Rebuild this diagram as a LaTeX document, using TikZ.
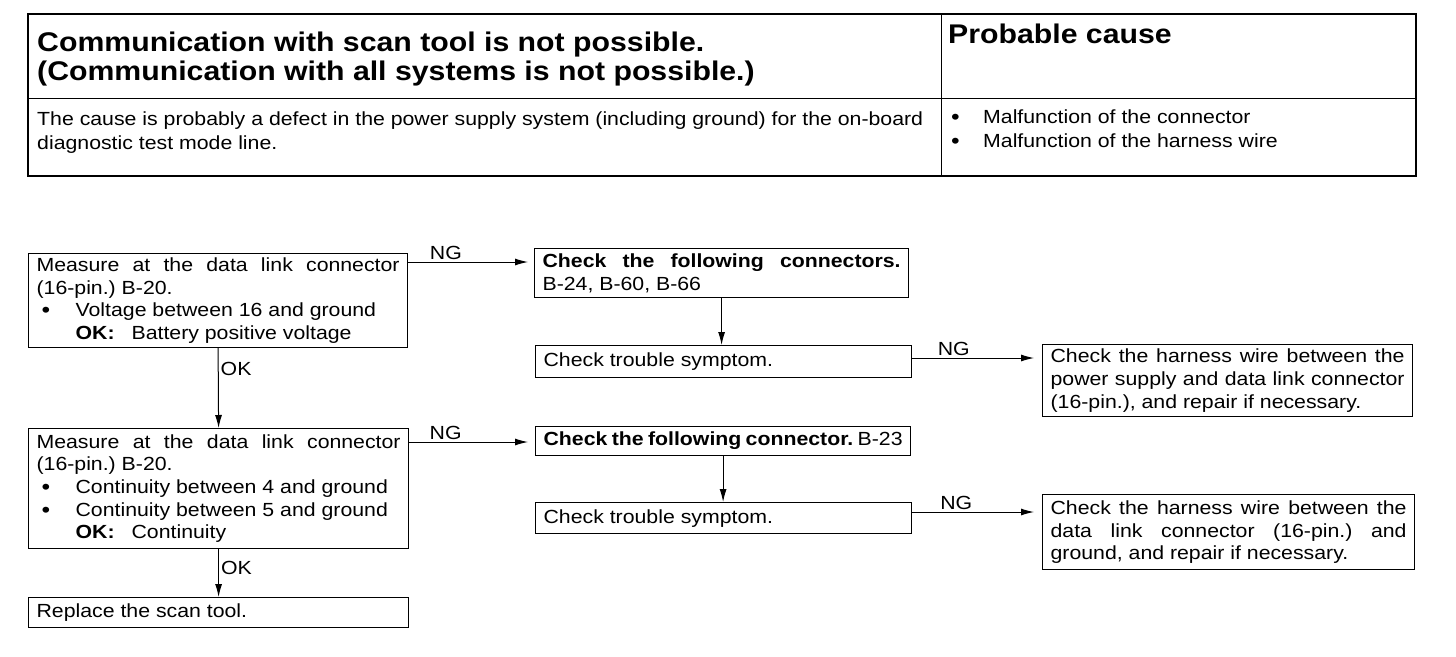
\documentclass[tikz,border=0pt]{standalone}
\usepackage{fontspec}
\setmainfont[FakeStretch=1.12]{Liberation Sans}
\usetikzlibrary{arrows.meta,positioning,calc}

\newcommand{\bodyfont}{\fontsize{19}{22.7}\selectfont\frenchspacing}
\newcommand{\notefont}{\fontsize{19}{24}\selectfont\frenchspacing}
\newcommand{\titlefont}{\fontsize{27}{29}\selectfont\bfseries}
\newcommand{\dotmark}[1][39pt]{\makebox[#1][l]{\hspace{5pt}\raisebox{-1pt}{\fontsize{22}{22}\selectfont\textbullet}}}

\tikzset{
	stepbox/.style={draw, line width=1.2pt, anchor=north west, inner xsep=8pt, inner ysep=0pt, align=justify, font=\bodyfont},
	flow/.style={-{Latex[length=13pt,width=7pt]}, line width=1pt},
	tag/.style={font=\bodyfont, inner sep=2pt}
}

\begin{document}
\begin{tikzpicture}[x=1pt,y=-1pt]
	\useasboundingbox (0,0) rectangle (1456,656);
	
	% header table
	\draw[line width=1.8pt] (28,14) rectangle (1416,176);
	\draw[line width=1pt] (28,98) -- (1416,98);
	\draw[line width=1pt] (941,14) -- (941,176);
	
	\node[anchor=north west, align=left, font=\titlefont, inner sep=0pt] (title) at (37,32)
		{Communication with scan tool is not possible.\\(Communication with all systems is not possible.)};
	\node[anchor=north west, font=\titlefont, inner sep=0pt] (cause) at (948,24) {Probable cause};
	\node[anchor=north west, align=left, font=\notefont, inner sep=0pt] (note) at (37,112)
		{The cause is probably a defect in the power supply system (including ground) for the on-board\\diagnostic test mode line.};
	\node[anchor=north west, align=left, font=\notefont, inner sep=0pt] (causes) at (946,110)
		{\dotmark[37pt]Malfunction of the connector\\\dotmark[37pt]Malfunction of the harness wire};
	
	% left column
	\node[stepbox, text width=363pt, minimum height=94pt] (m1) at (28,253)
		{Measure at the data link connector\linebreak
		 (16-pin.) B-20.\\
		 \dotmark Voltage between 16 and ground\\
		 \hspace*{39pt}\textbf{OK:}\hspace{17pt}Battery positive voltage};
	\node[stepbox, text width=364pt, minimum height=120pt] (m2) at (28,428)
		{Measure at the data link connector\linebreak
		 (16-pin.) B-20.\\
		 \dotmark Continuity between 4 and ground\\
		 \dotmark Continuity between 5 and ground\\
		 \hspace*{39pt}\textbf{OK:}\hspace{17pt}Continuity};
	\node[stepbox, text width=364pt, minimum height=30pt] (rp) at (28,597) {Replace the scan tool.};
	
	% middle column
	\node[stepbox, text width=358pt, minimum height=49pt] (c1) at (534,248)
		{\textbf{Check the following connectors.}\linebreak B-24, B-60, B-66};
	\node[stepbox, text width=360pt, minimum height=32pt] (t1) at (535,345) {Check trouble symptom.};
	\node[stepbox, text width=359pt, minimum height=29pt] (c2) at (535,426)
		{\textbf{Check the following connector.} B-23};
	\node[stepbox, text width=360pt, minimum height=31pt] (t2) at (535,502) {Check trouble symptom.};
	
	% right column
	\node[stepbox, text width=354pt, minimum height=72pt] (h1) at (1042,344)
		{Check the harness wire between the\linebreak
		 power supply and data link connector\linebreak
		 (16-pin.), and repair if necessary.};
	\node[stepbox, text width=356pt, minimum height=75pt] (h2) at (1042,494)
		{Check the harness wire between the\linebreak
		 data link connector (16-pin.) and\linebreak
		 ground, and repair if necessary.};
	
	% NG branches
	\coordinate (s1) at ($(m1.north east)+(0,9)$);
	\draw[flow, shorten >=6pt] (s1) -- node[tag, above, pos=0.3] (ng1) {NG} (s1 -| c1.west);
	\coordinate (s2) at ($(t1.north east)+(0,13)$);
	\draw[flow, shorten >=8pt] (s2) -- node[tag, above, pos=0.32] (ng2) {NG} (s2 -| h1.west);
	\coordinate (s3) at ($(m2.north east)+(0,14)$);
	\draw[flow, shorten >=7pt] (s3) -- node[tag, above, pos=0.29] (ng3) {NG} (s3 -| c2.west);
	\coordinate (s4) at ($(t2.north east)+(0,10)$);
	\draw[flow, shorten >=8pt] (s4) -- node[tag, above, pos=0.34] (ng4) {NG} (s4 -| h2.west);
	
	% OK and follow-on steps
	\draw[flow] (m1.south) -- node[tag, right, pos=0.26] (ok1) {OK} (m2.north);
	\draw[flow] (m2.south) -- node[tag, right, pos=0.4] (ok2) {OK} (rp.north);
	\draw[flow] (c1.south) -- (c1.south |- t1.north);
	\draw[flow] (c2.south) -- (c2.south |- t2.north);
\end{tikzpicture}
\end{document}
